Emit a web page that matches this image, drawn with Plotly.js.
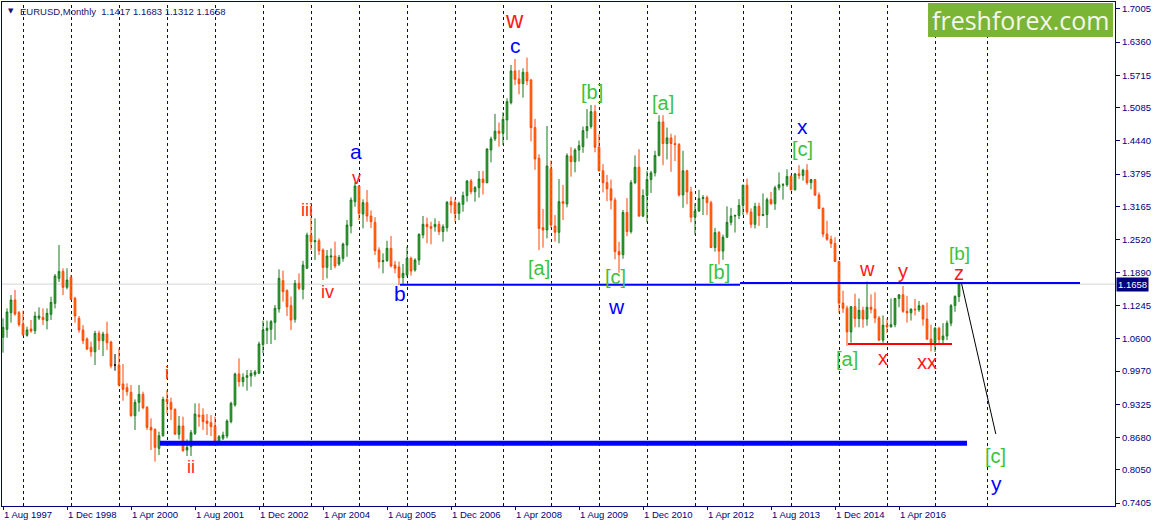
<!DOCTYPE html>
<html><head><meta charset="utf-8">
<script src="https://cdn.plot.ly/plotly-3.0.1.min.js"></script>
<style>html,body{margin:0;padding:0;background:#fff;}#chart{width:1155px;height:527px;}</style>
</head><body><div id="chart"></div>
<script>
// EURUSD monthly, Aug 1997 .. Jul 2017 (index 0 = Aug 1997)
const open = [
1.0624,1.0779,1.1103,1.1349,1.1103,
1.0883,1.0663,1.0786,1.0753,1.0999,1.1012,1.0948,1.1071,1.1285,1.1770,1.1906,1.1596,
1.1790,1.1382,1.0993,1.0766,1.0591,1.0429,1.0345,1.0702,1.0559,1.0689,1.0533,1.0086,
1.0086,0.9717,0.9646,0.9555,0.9102,0.9361,0.9516,0.9264,0.8875,0.8836,0.8467,0.8713,
0.9419,0.9361,0.9225,0.8739,0.8901,0.8435,0.8499,0.8758,0.9115,0.9115,0.8998,0.8966,
0.8901,0.8577,0.8662,0.8707,0.8985,0.9309,0.9912,0.9763,0.9847,0.9873,0.9905,0.9925,
1.0482,1.0760,1.0780,1.0916,1.1175,1.1726,1.1531,1.1240,1.0974,1.1674,1.1557,1.1965,
1.2612,1.2483,1.2502,1.2321,1.1984,1.2185,1.2204,1.2049,1.2159,1.2418,1.2787,1.3260,
1.3565,1.3021,1.3241,1.2982,1.2859,1.2321,1.2094,1.2114,1.2353,1.2030,1.1991,1.1784,
1.1836,1.2160,1.1933,1.2127,1.2613,1.2820,1.2775,1.2775,1.2820,1.2678,1.2756,1.3261,
1.3248,1.3034,1.3209,1.3378,1.3662,1.3455,1.3533,1.3701,1.3630,1.4265,1.4480,1.4630,
1.4589,1.4848,1.5185,1.5800,1.5645,1.5554,1.5774,1.5625,1.4699,1.4103,1.2756,1.2710,
1.3900,1.2788,1.2665,1.3261,1.3215,1.4148,1.4038,1.4265,1.4330,1.4640,1.4720,1.5010,
1.4320,1.3860,1.3630,1.3510,1.3290,1.2290,1.2230,1.3050,1.2680,1.3630,1.3930,1.2980,
1.3380,1.3690,1.3820,1.4160,1.4810,1.4390,1.4500,1.4390,1.4370,1.3390,1.3860,1.3450,
1.2960,1.3080,1.3320,1.3340,1.3240,1.2370,1.2660,1.2300,1.2570,1.2860,1.2980,1.2990,
1.3190,1.3580,1.3060,1.2820,1.3170,1.2990,1.3010,1.3300,1.3220,1.3530,1.3580,1.3590,
1.3750,1.3490,1.3800,1.3770,1.3870,1.3630,1.3690,1.3390,1.3130,1.2630,1.2530,1.2450,
1.2100,1.1290,1.1190,1.0730,1.1220,1.0990,1.1150,1.0980,1.1210,1.1170,1.1000,1.0570,
1.0860,1.0830,1.0870,1.1380,1.1450,1.1130,1.1100,1.1170,1.1160,1.1240,1.0980,1.0590,
1.0520,1.0800,1.0580,1.0650,1.0900,1.1240,1.1417];
const high = [
1.0993,1.1187,1.1446,1.1544,1.1136,
1.1142,1.0831,1.0961,1.1123,1.1207,1.1187,1.1187,1.1414,1.1855,1.2419,1.1965,1.1965,
1.1835,1.1414,1.1038,1.0863,1.0624,1.0540,1.0753,1.0753,1.0734,1.0928,1.0559,1.0300,
1.0410,1.0106,0.9730,0.9697,0.9419,0.9697,0.9568,0.9289,0.9050,0.8855,0.8791,0.9471,
0.9600,0.9451,0.9244,0.9095,0.9082,0.8641,0.8823,0.9341,0.9342,0.9245,0.9134,0.9115,
0.9083,0.8726,0.8791,0.9031,0.9374,0.9938,1.0216,0.9925,0.9990,0.9990,0.9990,1.0540,
1.0949,1.0949,1.0962,1.1253,1.1946,1.1920,1.1557,1.1415,1.1739,1.1868,1.2110,1.2658,
1.2956,1.2936,1.2548,1.2353,1.2321,1.2353,1.2483,1.2224,1.2464,1.2904,1.3344,1.3640,
1.3584,1.3306,1.3487,1.3090,1.2960,1.2373,1.2256,1.2502,1.2593,1.2108,1.2095,1.2050,
1.2386,1.2192,1.2160,1.2645,1.2982,1.2950,1.2872,1.2937,1.2885,1.2820,1.3274,1.3358,
1.3313,1.3261,1.3455,1.3682,1.3701,1.3565,1.3857,1.3857,1.4297,1.4524,1.4967,1.4800,
1.4997,1.5269,1.5917,1.6033,1.5819,1.5852,1.6059,1.5645,1.4870,1.4181,1.3118,1.4731,
1.4060,1.3000,1.3700,1.3585,1.4200,1.4320,1.4300,1.4450,1.4720,1.5060,1.5140,1.5140,
1.4580,1.3990,1.3780,1.3690,1.3340,1.2480,1.3100,1.3330,1.3680,1.4160,1.4280,1.3500,
1.3860,1.3860,1.4250,1.4940,1.4940,1.4700,1.4580,1.4550,1.4400,1.4250,1.3880,1.3550,
1.3230,1.3490,1.3390,1.3380,1.3280,1.2750,1.2690,1.2620,1.3170,1.3140,1.3010,1.3310,
1.3590,1.3710,1.3130,1.3240,1.3240,1.3420,1.3340,1.3450,1.3570,1.3830,1.3620,1.3890,
1.3780,1.3820,1.3970,1.3900,1.3990,1.3700,1.3700,1.3440,1.3150,1.2890,1.2600,1.2570,
1.2110,1.1530,1.1240,1.1230,1.1470,1.1380,1.1220,1.1710,1.1460,1.1500,1.1040,1.1050,
1.0990,1.1380,1.1390,1.1460,1.1620,1.1430,1.1190,1.1370,1.1330,1.1260,1.1300,1.0870,
1.0830,1.0830,1.0900,1.0950,1.1270,1.1440,1.1683];
const low = [
1.0326,1.0617,1.0909,1.1045,1.0831,
1.0650,1.0637,1.0714,1.0688,1.0961,1.0863,1.0779,1.0961,1.1187,1.1700,1.1447,1.1557,
1.1350,1.0909,1.0714,1.0494,1.0378,1.0248,1.0086,1.0378,1.0261,1.0378,1.0021,0.9976,
0.9665,0.9393,0.9490,0.9082,0.8823,0.9179,0.9225,0.8823,0.8435,0.8208,0.8337,0.8694,
0.9147,0.9017,0.8726,0.8641,0.8402,0.8317,0.8317,0.8726,0.8888,0.8823,0.8726,0.8707,
0.8551,0.8551,0.8629,0.8662,0.8953,0.9277,0.9666,0.9666,0.9588,0.9666,0.9860,0.9912,
1.0314,1.0495,1.0495,1.0573,1.1104,1.1318,1.1039,1.0767,1.0910,1.1544,1.1363,1.1960,
1.2321,1.2127,1.2224,1.1738,1.1770,1.1932,1.1965,1.2010,1.2094,1.2191,1.2645,1.3163,
1.2904,1.2742,1.2872,1.2750,1.2224,1.1965,1.1868,1.2094,1.1984,1.1868,1.1641,1.1641,
1.1803,1.1823,1.1900,1.2030,1.2548,1.2451,1.2432,1.2678,1.2613,1.2483,1.2678,1.3034,
1.2872,1.2904,1.3066,1.3261,1.3403,1.3261,1.3339,1.3400,1.3617,1.4025,1.4440,1.4330,
1.4362,1.4459,1.5150,1.5528,1.5347,1.5282,1.5528,1.4430,1.3880,1.2321,1.2367,1.2548,
1.2750,1.2483,1.2451,1.2904,1.3150,1.3747,1.3831,1.4040,1.4210,1.4490,1.4680,1.4220,
1.3850,1.3440,1.3270,1.3110,1.2140,1.1880,1.2150,1.2590,1.2640,1.3600,1.2970,1.2960,
1.2860,1.3430,1.3750,1.4140,1.3970,1.4080,1.3840,1.4050,1.3360,1.3140,1.3210,1.2860,
1.2620,1.3060,1.3000,1.3000,1.2360,1.2290,1.2040,1.2130,1.2560,1.2800,1.2660,1.2920,
1.3000,1.3010,1.2750,1.2740,1.2790,1.2980,1.2750,1.3200,1.3100,1.3480,1.3300,1.3550,
1.3480,1.3480,1.3700,1.3670,1.3590,1.3500,1.3370,1.3120,1.2570,1.2500,1.2360,1.2090,
1.1100,1.1100,1.0460,1.0520,1.0820,1.0820,1.0810,1.0850,1.1090,1.0900,1.0560,1.0520,
1.0710,1.0810,1.0820,1.1210,1.1100,1.0910,1.0950,1.1050,1.1120,1.0850,1.0570,1.0350,
1.0340,1.0490,1.0490,1.0570,1.0840,1.1120,1.1312];
const close = [
1.0818,1.1116,1.1349,1.1077,1.0870,
1.0676,1.0766,1.0747,1.1038,1.1038,1.0967,1.1090,1.1304,1.1816,1.1906,1.1596,1.1738,
1.1362,1.1038,1.0766,1.0559,1.0397,1.0345,1.0702,1.0559,1.0689,1.0520,1.0067,1.0086,
0.9697,0.9613,0.9568,0.9102,0.9361,0.9516,0.9257,0.8875,0.8823,0.8486,0.8713,0.9419,
0.9374,0.9225,0.8745,0.8901,0.8421,0.8486,0.8771,0.9134,0.9083,0.8985,0.8953,0.8888,
0.8577,0.8694,0.8726,0.8998,0.9342,0.9912,0.9763,0.9847,0.9880,0.9925,0.9951,1.0495,
1.0767,1.0799,1.0929,1.1188,1.1771,1.1512,1.1220,1.0961,1.1674,1.1577,1.2030,1.2612,
1.2483,1.2502,1.2308,1.1984,1.2204,1.2204,1.2010,1.2178,1.2438,1.2807,1.3293,1.3565,
1.3034,1.3241,1.2982,1.2872,1.2308,1.2094,1.2114,1.2353,1.2010,1.1965,1.1784,1.1868,
1.2160,1.1913,1.2127,1.2626,1.2820,1.2775,1.2742,1.2820,1.2678,1.2775,1.3248,1.3196,
1.3028,1.3228,1.3378,1.3662,1.3455,1.3533,1.3701,1.3630,1.4284,1.4480,1.4630,1.4589,
1.4861,1.5204,1.5800,1.5638,1.5554,1.5774,1.5606,1.4699,1.4090,1.2742,1.2710,1.3954,
1.2807,1.2665,1.3261,1.3228,1.4155,1.4038,1.4265,1.4349,1.4640,1.4720,1.5010,1.4320,
1.3860,1.3630,1.3510,1.3290,1.2290,1.2230,1.3050,1.2680,1.3630,1.3930,1.2980,1.3380,
1.3690,1.3820,1.4160,1.4810,1.4390,1.4500,1.4390,1.4370,1.3390,1.3860,1.3450,1.2960,
1.3080,1.3320,1.3340,1.3240,1.2370,1.2660,1.2300,1.2570,1.2860,1.2980,1.2990,1.3190,
1.3580,1.3060,1.2820,1.3170,1.2990,1.3010,1.3300,1.3220,1.3530,1.3590,1.3590,1.3750,
1.3490,1.3800,1.3770,1.3870,1.3630,1.3690,1.3390,1.3130,1.2630,1.2530,1.2450,1.2100,
1.1290,1.1190,1.0730,1.1220,1.0990,1.1150,1.0980,1.1210,1.1170,1.1000,1.0570,1.0860,
1.0830,1.0870,1.1380,1.1450,1.1130,1.1100,1.1170,1.1160,1.1240,1.0980,1.0590,1.0520,
1.0800,1.0580,1.0650,1.0900,1.1240,1.1420,1.1658];

const xTickVals = [0,16,32,48,64,80,96,112,128,144,160,176,192,208,224];
const xTickText = ['1 Aug 1997','1 Dec 1998','1 Apr 2000','1 Aug 2001','1 Dec 2002','1 Apr 2004',
  '1 Aug 2005','1 Dec 2006','1 Apr 2008','1 Aug 2009','1 Dec 2010','1 Apr 2012','1 Aug 2013',
  '1 Dec 2014','1 Apr 2016'];
const yTickVals = [1.7005,1.6360,1.5715,1.5085,1.4440,1.3795,1.3165,1.2520,1.1890,1.1245,
  1.0600,0.9970,0.9325,0.8680,0.8050,0.7405];
const gridMonths = [5,17,29,41,53,65,77,89,101,113,125,137,149,161,173,185,197,209,221,233,246];
const lastPrice = 1.1658;
const header = 'EURUSD,Monthly  1.1417 1.1683 1.1312 1.1658';

const NAVY = '#000080', RED = '#ff1a1a', BLUE = '#0000ff', GREEN = '#3cc23c';
const PX = 0.125; // half a screen pixel in month units, keeps 1px lines crisp

const idx = open.map((_, i) => i);
const isDoji = i => open[i] === close[i];
const mainIds = idx.filter(i => !isDoji(i));
const dojiIds = idx.filter(isDoji);
const pick = (arr, ids) => ids.map(i => arr[i]);

const traces = [
  {type:'candlestick', x: pick(idx, mainIds), open: pick(open, mainIds), high: pick(high, mainIds),
   low: pick(low, mainIds), close: pick(close, mainIds),
   increasing:{line:{color:'#157a17', width:1}, fillcolor:'#33ad33'},
   decreasing:{line:{color:'#ff4500', width:1}, fillcolor:'#ff7400'},
   whiskerwidth:0, hoverinfo:'skip', showlegend:false},
  {type:'candlestick', x: pick(idx, dojiIds), open: pick(open, dojiIds), high: pick(high, dojiIds),
   low: pick(low, dojiIds), close: pick(close, dojiIds),
   increasing:{line:{color:'#000000', width:1}, fillcolor:'#000000'},
   decreasing:{line:{color:'#000000', width:1}, fillcolor:'#000000'},
   whiskerwidth:0, hoverinfo:'skip', showlegend:false}
];

const shapes = [];
gridMonths.forEach(m => shapes.push({type:'line', xref:'x', yref:'paper', x0:m + PX, x1:m + PX, y0:0, y1:1,
  layer:'below', line:{color:NAVY, width:1, dash:'3px,3px'}}));
shapes.push({type:'line', xref:'paper', yref:'y', x0:0, x1:1, y0:lastPrice, y1:lastPrice,
  layer:'below', line:{color:'#d4d4d4', width:1}});
// analysis lines
shapes.push({type:'line', xref:'x', yref:'y', x0:99.25, x1:184.25, y0:1.1645, y1:1.1645, line:{color:BLUE, width:2}});
shapes.push({type:'line', xref:'x', yref:'y', x0:184.25, x1:269.25, y0:1.1680, y1:1.1680, line:{color:BLUE, width:2}});
shapes.push({type:'line', xref:'x', yref:'y', x0:39.25, x1:241, y0:0.8567, y1:0.8567, line:{color:BLUE, width:5}});
shapes.push({type:'line', xref:'x', yref:'y', x0:211.25, x1:237.25, y0:1.0495, y1:1.0495, line:{color:'#ff0000', width:2}});
shapes.push({type:'line', xref:'x', yref:'y', x0:239.6, x1:248.2, y0:1.1683, y1:0.8746, line:{color:'#000000', width:1}});
// logo box
shapes.push({type:'rect', xref:'paper', yref:'paper', x0:0.8320, x1:0.9982, y0:0.9306, y1:0.9980,
  line:{width:0}, fillcolor:'#7bb536'});

const labels = [
  {t:'w', n:127.75, p:1.6791, c:RED, s:24},
  {t:'c', n:128, p:1.6305, c:BLUE, s:21},
  {t:'a', n:88.25, p:1.4226, c:BLUE, s:21},
  {t:'v', n:88.25, p:1.3721, c:RED, s:18},
  {t:'iii', n:75.9, p:1.3099, c:RED, s:18},
  {t:'iv', n:81.2, p:1.1511, c:RED, s:18},
  {t:'b', n:99.25, p:1.1480, c:BLUE, s:21},
  {t:'i', n:40.9, p:0.9925, c:RED, s:18},
  {t:'ii', n:46.9, p:0.8110, c:RED, s:18},
  {t:'[a]', n:134, p:1.1978, c:GREEN, s:20},
  {t:'[b]', n:147.2, p:1.5398, c:GREEN, s:20},
  {t:'[c]', n:153, p:1.1791, c:GREEN, s:20},
  {t:'w', n:153.25, p:1.1214, c:BLUE, s:21},
  {t:'[a]', n:164.9, p:1.5184, c:GREEN, s:20},
  {t:'[b]', n:179.1, p:1.1888, c:GREEN, s:20},
  {t:'x', n:199.9, p:1.4717, c:BLUE, s:21},
  {t:'[c]', n:199.9, p:1.4284, c:GREEN, s:20},
  {t:'w', n:216.1, p:1.1946, c:RED, s:20},
  {t:'y', n:225.1, p:1.1919, c:RED, s:20},
  {t:'[b]', n:239.1, p:1.2260, c:GREEN, s:19},
  {t:'z', n:239.1, p:1.1880, c:RED, s:20},
  {t:'[a]', n:211.1, p:1.0197, c:GREEN, s:20},
  {t:'x', n:219.9, p:1.0217, c:RED, s:20},
  {t:'xx', n:230.9, p:1.0151, c:RED, s:20},
  {t:'[c]', n:248, p:0.8318, c:GREEN, s:20},
  {t:'y', n:248.25, p:0.7788, c:BLUE, s:21}
];
const annotations = labels.map(l => ({text:l.t, x:l.n, y:l.p, xref:'x', yref:'y', showarrow:false,
  xanchor:'center', yanchor:'middle', font:{family:'Liberation Sans, Arial, sans-serif', size:l.s, color:l.c}}));
annotations.push({text:'freshforex.com', xref:'paper', yref:'paper', x:0.9151, y:0.9643, showarrow:false,
  xanchor:'center', yanchor:'middle', font:{family:'Open Sans, sans-serif', size:25, color:'#f3f8ea'}});
annotations.push({text:header, xref:'paper', yref:'paper', x:0.0144, y:0.9821, showarrow:false,
  xanchor:'left', yanchor:'middle', font:{family:'Liberation Sans, Arial, sans-serif', size:9.5, color:'#14146e'}});
annotations.push({text:'▼', xref:'paper', yref:'paper', x:0.0036, y:0.9821, showarrow:false,
  xanchor:'left', yanchor:'middle', font:{family:'DejaVu Sans, sans-serif', size:7, color:'#14146e'}});
annotations.push({text:lastPrice.toFixed(4), xref:'paper', yref:'y', x:1, y:lastPrice, xshift:1, showarrow:false,
  xanchor:'left', yanchor:'middle', bgcolor:NAVY, borderpad:1,
  font:{family:'Liberation Sans, Arial, sans-serif', size:9.5, color:'#ffffff'}});

const layout = {
  width:1155, height:527, margin:{l:2, r:40, t:2, b:21, pad:0},
  paper_bgcolor:'#ffffff', plot_bgcolor:'#ffffff', showlegend:false, boxgap:0.4,
  font:{family:'Liberation Sans, Arial, sans-serif', size:9.5, color:NAVY},
  xaxis:{range:[-0.25, 278], tickmode:'array', tickvals:xTickVals, ticktext:xTickText,
    ticks:'outside', ticklen:3, tickcolor:NAVY, ticklabelposition:'outside right',
    showgrid:false, zeroline:false, showline:true, mirror:true, linecolor:NAVY, linewidth:1,
    rangeslider:{visible:false}, fixedrange:true, tickfont:{size:9.5, color:NAVY}},
  yaxis:{side:'right', range:[0.73467, 1.71406], tickmode:'array', tickvals:yTickVals,
    ticktext:yTickVals.map(v => v.toFixed(4)), ticks:'outside', ticklen:4, tickcolor:NAVY,
    showgrid:false, zeroline:false, showline:true, mirror:true, linecolor:NAVY, linewidth:1,
    fixedrange:true, tickfont:{size:9.5, color:NAVY}},
  shapes:shapes, annotations:annotations
};
Plotly.newPlot('chart', traces, layout, {staticPlot:true, displayModeBar:false});
</script></body></html>
